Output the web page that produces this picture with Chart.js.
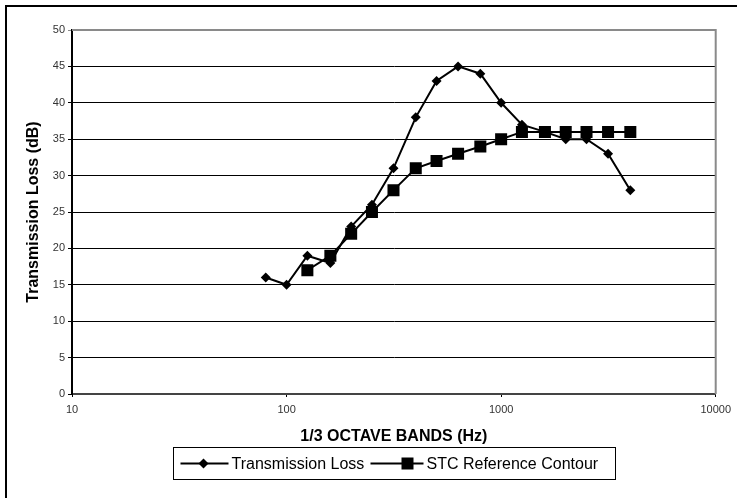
<!DOCTYPE html>
<html>
<head>
<meta charset="utf-8">
<script src="https://cdn.jsdelivr.net/npm/chart.js@4.4.1/dist/chart.umd.min.js"></script>
<style>
  html, body { margin:0; padding:0; background:#fff; }
  #wrap { width:737px; height:498px; }
</style>
</head>
<body>
<div id="wrap"><canvas id="tl-chart" width="737" height="498"></canvas></div>
<script>
// 1/3 octave bands (Hz) and levels (dB)
const tlFreqs   = [80, 100, 125, 160, 200, 250, 315, 400, 500, 630, 800, 1000, 1250, 1600, 2000, 2500, 3150, 4000];
const tlValues  = [16, 15, 19, 18, 23, 26, 31, 38, 43, 45, 44, 40, 37, 36, 35, 35, 33, 28];
const stcFreqs  = [125, 160, 200, 250, 315, 400, 500, 630, 800, 1000, 1250, 1600, 2000, 2500, 3150, 4000];
const stcValues = [17, 19, 22, 25, 28, 31, 32, 33, 34, 35, 36, 36, 36, 36, 36, 36];
const xTicks = [10, 100, 1000, 10000];
const seriesNames = ['Transmission Loss', 'STC Reference Contour'];

const FONT = '"Liberation Sans", Arial, sans-serif';
Chart.defaults.font.family = FONT;

const pts = (xs, ys) => xs.map((x, i) => ({ x, y: ys[i] }));

// frame, grey plot border on top/right, and an Excel-style legend box
const decor = {
  id: 'decor',
  afterDraw(chart) {
    const { ctx, chartArea: a, width: W, height: H } = chart;
    ctx.save();
    // grey top + right border of plot area
    ctx.strokeStyle = '#8a8a8a';
    ctx.lineWidth = 2;
    ctx.beginPath();
    ctx.moveTo(a.left, a.top);
    ctx.lineTo(a.right, a.top);
    ctx.lineTo(a.right, a.bottom);
    ctx.stroke();

    // outer frame (runs off the right / bottom edge)
    ctx.fillStyle = '#000';
    ctx.fillRect(5, 5, W - 5, 2);
    ctx.fillRect(5, 5, 2, H - 5);

    // legend
    const bw = 442, bh = 32;
    const bx = Math.round((a.left + a.right) / 2 - bw / 2) + 0.5;
    const by = H - 51 + 0.5;
    ctx.lineWidth = 1;
    ctx.strokeStyle = '#000';
    ctx.strokeRect(bx, by, bw, bh);
    const cy = by + bh / 2;
    ctx.font = '16px ' + FONT;
    ctx.textBaseline = 'middle';
    ctx.fillStyle = '#000';

    const items = [
      { x0: bx + 7,   x1: bx + 55,  mx: bx + 30,  style: 'diamond' },
      { x0: bx + 197, x1: bx + 250, mx: bx + 234, style: 'square' },
    ];
    items.forEach((it, i) => {
      ctx.lineWidth = 2;
      ctx.beginPath();
      ctx.moveTo(it.x0, cy);
      ctx.lineTo(it.x1, cy);
      ctx.stroke();
      const mx = it.mx;
      ctx.beginPath();
      if (it.style === 'diamond') {
        ctx.moveTo(mx, cy - 5); ctx.lineTo(mx + 5, cy);
        ctx.lineTo(mx, cy + 5); ctx.lineTo(mx - 5, cy);
        ctx.closePath();
      } else {
        ctx.rect(mx - 6, cy - 6, 12, 12);
      }
      ctx.fill();
      ctx.fillText(seriesNames[i], it.x1 + 3, cy + 1);
    });
    ctx.restore();
  }
};

new Chart(document.getElementById('tl-chart'), {
  type: 'line',
  data: {
    datasets: [
      {
        label: seriesNames[0],
        data: pts(tlFreqs, tlValues),
        borderColor: '#000', backgroundColor: '#000', borderWidth: 2,
        pointStyle: 'rectRot', pointRadius: 5, pointHoverRadius: 5,
        pointBorderWidth: 0, tension: 0
      },
      {
        label: seriesNames[1],
        data: pts(stcFreqs, stcValues),
        borderColor: '#000', backgroundColor: '#000', borderWidth: 2,
        pointStyle: 'rect', pointRadius: 8.5, pointHoverRadius: 8.5,
        pointBorderWidth: 0, tension: 0
      }
    ]
  },
  options: {
    responsive: false,
    animation: false,
    devicePixelRatio: 1,
    layout: { padding: { left: 10, top: 30, right: 20, bottom: 48 } },
    plugins: { legend: { display: false }, tooltip: { enabled: false } },
    scales: {
      x: {
        type: 'logarithmic',
        min: 10, max: 10000,
        afterBuildTicks: s => { s.ticks = xTicks.map(v => ({ value: v })); },
        afterFit: s => { s.height = 56; },
        ticks: {
          callback: v => String(v),
          font: { size: 11 }, color: '#333',
          maxRotation: 0, autoSkip: false, padding: 6
        },
        grid: { drawOnChartArea: false, drawTicks: true, tickLength: 3, color: '#000' },
        border: { display: true, color: '#444', width: 2 },
        title: {
          display: true, text: '1/3 OCTAVE BANDS (Hz)',
          font: { size: 16, weight: 'bold' }, color: '#000',
          padding: { top: 4, bottom: 4 }
        }
      },
      y: {
        min: 0, max: 50,
        afterFit: s => { s.width = 62; },
        ticks: { stepSize: 5, font: { size: 11 }, color: '#333', padding: 3 },
        grid: {
          color: c => (c.tick && c.tick.value === 50 ? '#8a8a8a' : '#000'),
          lineWidth: 1, tickLength: 4
        },
        border: { display: true, color: '#000', width: 2 },
        title: {
          display: true, text: 'Transmission Loss (dB)',
          font: { size: 16, weight: 'bold' }, color: '#000',
          padding: { top: 14, bottom: 4 }
        }
      }
    }
  },
  plugins: [decor]
});
</script>
</body>
</html>
